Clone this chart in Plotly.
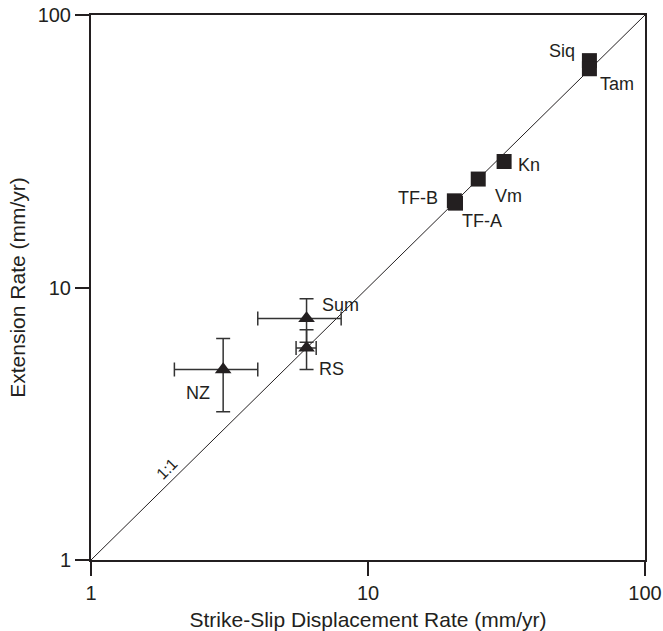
import math
import plotly.graph_objects as go

# Triangles (strike-slip vs extension)
tri_names = ["NZ", "Sum", "RS"]
tri_x = [3.0, 6.0, 6.0]
tri_y = [5.0, 7.7, 6.0]
tri_xerr = [1.0, 2.0, 0.5]
tri_yerr = [1.5, 1.4, 1.0]

# Squares
sq_names = ["Siq", "Tam", "Kn", "Vm", "TF-B", "TF-A"]
sq_x = [63.0, 63.0, 31.0, 25.0, 20.5, 20.7]
sq_y = [68.0, 63.5, 29.0, 25.0, 20.8, 20.4]
sq_xerr = [0.0, 1.5, 1.0, 0.0, 0.8, 0.0]
sq_yerr = [3.0, 0.0, 1.5, 0.0, 0.0, 0.0]

line_vals = [1, 100]

FONT = "Liberation Sans, Arial, Helvetica, sans-serif"
INK = "#231f20"

fig = go.Figure()

fig.add_trace(go.Scatter(x=line_vals, y=line_vals, mode="lines",
                         line=dict(color=INK, width=1), hoverinfo="skip",
                         showlegend=False))

fig.add_trace(go.Scatter(
    x=sq_x, y=sq_y, mode="markers",
    marker=dict(symbol="square", size=15, color=INK),
    error_x=dict(type="data", array=sq_xerr, color="#777", thickness=1.2, width=4),
    error_y=dict(type="data", array=sq_yerr, color="#777", thickness=1.2, width=6),
    showlegend=False))

fig.add_trace(go.Scatter(
    x=tri_x, y=tri_y, mode="markers",
    marker=dict(symbol="triangle-up", size=14.5, color=INK),
    error_x=dict(type="data", array=tri_xerr, color="#333", thickness=1.5, width=7),
    error_y=dict(type="data", array=tri_yerr, color="#333", thickness=1.5, width=7),
    showlegend=False))

# label pixel offsets (xshift, yshift) per point
tri_off = {"NZ": (-25, -23), "Sum": (34, 13), "RS": (25, -21)}
sq_off = {"Siq": (-27, 10), "Tam": (28, -15), "Kn": (25, -3),
          "Vm": (30, -17), "TF-B": (-36, 3), "TF-A": (26, -18)}

for n, x, y in zip(tri_names, tri_x, tri_y):
    dx, dy = tri_off[n]
    fig.add_annotation(x=math.log10(x), y=math.log10(y), text=n, showarrow=False,
                       xshift=dx, yshift=dy, font=dict(family=FONT, size=18, color=INK))
for n, x, y in zip(sq_names, sq_x, sq_y):
    dx, dy = sq_off[n]
    fig.add_annotation(x=math.log10(x), y=math.log10(y), text=n, showarrow=False,
                       xshift=dx, yshift=dy, font=dict(family=FONT, size=18, color=INK))

fig.add_annotation(x=math.log10(2), y=math.log10(2), text="1:1", showarrow=False,
                   xshift=-7, yshift=9, textangle=-45,
                   font=dict(family=FONT, size=16, color=INK))

axis_common = dict(type="log", range=[0, 2], tickvals=[1, 10, 100],
                   ticktext=["1", "10", "100"], ticks="outside", ticklen=14,
                   tickwidth=1.5, tickcolor=INK, showline=True, linewidth=2,
                   linecolor=INK, mirror=True, showgrid=False, zeroline=False,
                   automargin=False,
                   tickfont=dict(family=FONT, size=20, color=INK))

fig.update_xaxes(**axis_common,
                 title=dict(text="Strike-Slip Displacement Rate (mm/yr)",
                            font=dict(family=FONT, size=21, color=INK), standoff=9))
fig.update_yaxes(**axis_common,
                 title=dict(text="Extension Rate (mm/yr)",
                            font=dict(family=FONT, size=21, color=INK), standoff=6))

fig.update_layout(width=663, height=631, margin=dict(l=91, r=18, t=15, b=71),
                  plot_bgcolor="white", paper_bgcolor="white")

fig.write_html("out.html")
